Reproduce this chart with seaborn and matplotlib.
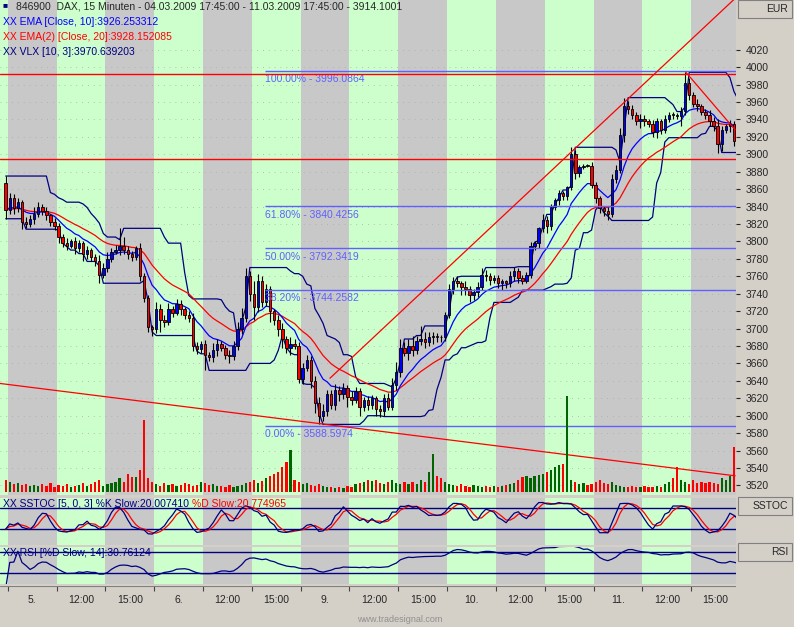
import numpy as np
import pandas as pd
import matplotlib
matplotlib.use("Agg")
import matplotlib.pyplot as plt
import seaborn as sns

# ---------------- data ----------------
first_open = 3867
closes = [3836, 3850, 3838, 3845, 3822, 3820, 3826, 3832, 3840, 3835,
          3830, 3822, 3818, 3805, 3798, 3795, 3800, 3792, 3798, 3785,
          3790, 3782, 3778, 3762, 3770, 3780, 3788, 3790, 3795, 3790,
          3785, 3782, 3792, 3760, 3735, 3702, 3700, 3722, 3710, 3708,
          3722, 3718, 3728, 3722, 3716, 3712, 3680, 3676, 3682, 3670,
          3667, 3675, 3682, 3678, 3670, 3668, 3680, 3700, 3712, 3760,
          3740, 3725, 3755, 3730, 3745, 3720, 3710, 3700, 3688, 3678,
          3682, 3680, 3642, 3655, 3664, 3640, 3615, 3600, 3605, 3625,
          3612, 3630, 3625, 3632, 3622, 3618, 3628, 3610, 3618, 3612,
          3620, 3608, 3605, 3620, 3610, 3635, 3650, 3678, 3672, 3680,
          3675, 3686, 3688, 3684, 3690, 3692, 3690, 3690, 3715, 3745,
          3755, 3752, 3748, 3745, 3738, 3742, 3748, 3762, 3760, 3756,
          3758, 3752, 3754, 3752, 3760, 3766, 3758, 3755, 3762, 3795,
          3798, 3815, 3825, 3818, 3840, 3848, 3855, 3852, 3862, 3900,
          3878, 3885, 3887, 3887, 3865, 3850, 3838, 3835, 3832, 3872,
          3882, 3922, 3955, 3952, 3945, 3938, 3940, 3938, 3935, 3925,
          3938, 3928, 3940, 3945, 3945, 3944, 3950, 3982, 3968, 3958,
          3955, 3948, 3945, 3938, 3932, 3912, 3928, 3932, 3935, 3915,
          3914]
wick_up = [8, 6, 4, 5, 3, 6, 4, 8, 5, 3, 4, 2, 5, 3, 4, 6, 3, 5, 4, 2,
           5, 3, 4, 6, 5, 8, 4, 6, 20, 10, 5, 4, 3, 6, 4, 3, 2, 8, 6, 5,
           7, 4, 6, 5, 3, 4, 6, 5, 4, 5, 3, 8, 6, 4, 3, 5, 6, 8, 12, 10,
           6, 15, 8, 5, 6, 4, 3, 5, 6, 4, 8, 6, 4, 5, 6, 4, 5, 6, 8, 4,
           5, 6, 4, 5, 3, 6, 5, 4, 3, 5, 4, 3, 4, 5, 6, 8, 12, 10, 6, 8,
           12, 6, 15, 8, 6, 4, 3, 3, 4, 6, 4, 5, 3, 6, 4, 3, 5, 8, 5, 4,
           3, 4, 3, 2, 6, 5, 4, 3, 3, 4, 3, 2, 6, 4, 3, 2, 4, 3, 2, 8,
           5, 3, 2, 2, 4, 3, 2, 3, 4, 5, 6, 8, 10, 6, 5, 4, 6, 5, 3, 4,
           4, 3, 5, 4, 3, 2, 4, 12, 6, 4, 5, 3, 4, 6, 5, 8, 4, 3, 4, 3, 2]
wick_dn = [10, 5, 6, 4, 8, 5, 3, 6, 4, 5, 6, 4, 5, 7, 4, 5, 3, 6, 4, 8,
           5, 4, 6, 10, 4, 5, 4, 3, 6, 4, 5, 4, 3, 5, 4, 6, 8, 5, 14, 6,
           4, 5, 3, 6, 5, 4, 6, 5, 4, 18, 4, 5, 6, 4, 5, 8, 4, 5, 6, 4,
           8, 15, 6, 5, 4, 12, 6, 8, 10, 6, 8, 4, 5, 6, 4, 8, 12, 10, 6, 5,
           4, 6, 8, 6, 12, 6, 4, 10, 5, 6, 4, 8, 6, 5, 4, 3, 5, 6, 4, 8,
           6, 4, 5, 6, 4, 8, 5, 6, 4, 3, 5, 4, 10, 6, 8, 5, 6, 4, 5, 6,
           4, 5, 8, 6, 4, 5, 6, 4, 3, 4, 5, 6, 4, 8, 5, 4, 6, 5, 4, 3,
           6, 4, 2, 2, 4, 6, 5, 6, 8, 4, 5, 3, 8, 6, 5, 4, 8, 6, 4, 5,
           6, 5, 4, 3, 5, 4, 12, 5, 6, 4, 5, 3, 4, 6, 5, 10, 8, 4, 6, 5, 3]
volume = [12, 10, 8, 9, 7, 8, 6, 7, 6, 8, 6, 9, 5, 7, 6, 8, 5, 6, 7, 9,
          6, 8, 10, 12, 6, 8, 9, 10, 14, 10, 18, 15, 15, 22, 72, 14, 10, 8, 6, 9,
          7, 8, 6, 7, 9, 8, 6, 7, 10, 9, 7, 8, 6, 6, 5, 7, 5, 6, 7, 9,
          10, 12, 9, 11, 14, 16, 18, 20, 25, 30, 42, 12, 10, 8, 9, 7, 6, 8, 6, 5,
          5, 4, 5, 4, 6, 5, 8, 9, 10, 12, 11, 12, 9, 8, 10, 12, 9, 8, 10, 8,
          10, 8, 12, 10, 20, 38, 16, 14, 10, 8, 7, 6, 8, 6, 5, 7, 6, 5, 6, 5,
          6, 5, 6, 7, 8, 9, 12, 15, 16, 14, 16, 17, 18, 20, 22, 25, 27, 28, 97, 12,
          10, 8, 9, 7, 8, 10, 12, 9, 8, 10, 7, 6, 5, 5, 6, 5, 5, 6, 5, 5,
          6, 5, 8, 10, 14, 25, 12, 10, 8, 12, 9, 10, 9, 10, 9, 8, 14, 12, 16, 45, 14]

fib_levels = [3996.0864, 3840.4256, 3792.3419, 3744.2582, 3588.5974]
fib_pcts = ["100.00%", "61.80%", "50.00%", "38.20%", "0.00%"]
red_hlines = [3992, 3894]
tick_labels = ["5.", "12:00", "15:00", "6.", "12:00", "15:00", "9.", "12:00", "15:00",
               "10.", "12:00", "15:00", "11.", "12:00", "15:00"]
# trend lines (bar index, price)
trend_lines = [((-1.4, 3637), (179.3, 3531)),
               ((79.7, 3643), (180.0, 4082)),
               ((167.2, 3994), (179.3, 3928))]

# ---------------- derived ----------------
n = len(closes)
x = np.arange(n)
c = np.array(closes, float)
o = np.concatenate([[first_open], c[:-1]])
h = np.maximum(o, c) + np.array(wick_up)
l = np.minimum(o, c) - np.array(wick_dn)
df = pd.DataFrame({"x": x, "open": o, "close": c, "high": h, "low": l, "vol": volume})
df["ema10"] = df["close"].ewm(span=10, adjust=False).mean()
df["ema20"] = df["close"].ewm(span=20, adjust=False).mean()
df["ema20b"] = df["ema20"].ewm(span=2, adjust=False).mean()
df["vup"] = df["high"].rolling(10, min_periods=1).max().shift(1).bfill()
df["vdn"] = df["low"].rolling(10, min_periods=1).min().shift(1).bfill()
lo5 = df["low"].rolling(5, min_periods=1).min()
hi5 = df["high"].rolling(5, min_periods=1).max()
fk = 100 * (df["close"] - lo5) / (hi5 - lo5).replace(0, 1)
df["k"] = fk.rolling(3, min_periods=1).mean()
df["d"] = df["k"].rolling(3, min_periods=1).mean()
delta = df["close"].diff().fillna(0)
up = delta.clip(lower=0).ewm(alpha=1 / 14, adjust=False).mean()
dn = (-delta.clip(upper=0)).ewm(alpha=1 / 14, adjust=False).mean()
rsi = 100 - 100 / (1 + up / dn.replace(0, 1e-9))
df["rsi"] = rsi.rolling(3, min_periods=1).mean()

# ---------------- style ----------------
sns.set_style("white")
plt.rcParams["font.family"] = ["Liberation Sans", "DejaVu Sans"]
BG = "#d4d0c8"
GRAY = "#c8c8c8"
GREEN = "#ccffcc"
NAVY = "#000080"
FIB = "#6060ff"

fig = plt.figure(figsize=(7.94, 6.27), dpi=100, facecolor=BG)
W = 736 / 794
ax = fig.add_axes([0, 1 - 495 / 627, W, 495 / 627])
ax_s = fig.add_axes([0, 1 - 545 / 627, W, 47 / 627], sharex=ax)
ax_r = fig.add_axes([0, 1 - 584 / 627, W, 37 / 627], sharex=ax)
ax_t = fig.add_axes([0, 1 - 612 / 627, W, 26 / 627], sharex=ax)

xmin, xmax = -1.4, 179.5
ylo, yhi = 3509, 4077

def bands(a):
    a.axvspan(xmin, 0.5, color=GREEN, lw=0, zorder=0)
    for k in range(15):
        a.axvspan(0.5 + 12 * k, 12.5 + 12 * k, color=GRAY if k % 2 == 0 else GREEN, lw=0, zorder=0)
    a.set_xlim(xmin, xmax)

for a in (ax, ax_s, ax_r):
    bands(a)
    a.set_facecolor(GRAY)
    for sp in a.spines.values():
        sp.set_visible(False)
    a.tick_params(left=False, bottom=False, labelbottom=False, labelleft=False)

# volume on twin
axv = ax.twinx()
axv.set_ylim(-3, 495)
axv.set_axis_off()
vcol = np.where(df["close"] > df["open"], "#006400", "#ff0000")
axv.bar(df["x"], df["vol"], width=0.55, color=vcol, edgecolor="none", linewidth=0,
        zorder=2, antialiased=False)

# main
ax.set_ylim(ylo, yhi)
for yv in np.arange(3520, 4040, 20):
    ax.axhline(yv, color="#aaaaaa", lw=0.6, ls=(0, (1, 6)), zorder=1)
ax.yaxis.tick_right()
ax.set_yticks(np.arange(3520, 4040, 20))
ax.tick_params(axis="y", left=False, labelleft=False, right=True, labelright=True,
               length=3, labelsize=7.5, pad=4)

# indicators
sns.lineplot(data=df, x="x", y="vup", ax=ax, color=NAVY, lw=0.9, zorder=3)
sns.lineplot(data=df, x="x", y="vdn", ax=ax, color=NAVY, lw=0.9, zorder=3)
sns.lineplot(data=df, x="x", y="ema20b", ax=ax, color="#ff0000", lw=0.9, zorder=3)
sns.lineplot(data=df, x="x", y="ema10", ax=ax, color="#0000ff", lw=0.9, zorder=3)

# candles
ax.vlines(df["x"], df["low"], df["high"], color="black", lw=0.8, zorder=4)
ccol = np.where(df["close"] > df["open"], "#0000ff", "#ff0000")
body = (df["close"] - df["open"]).abs().clip(lower=0.8)
ax.bar(df["x"], body, bottom=np.minimum(df["open"], df["close"]), width=0.6,
       color=ccol, edgecolor="black", lw=0.6, zorder=5)
ax.set_xlabel(""); ax.set_ylabel("")

# fib
for lv, pct in zip(fib_levels, fib_pcts):
    ax.hlines(lv, 63.8, xmax, color=FIB, lw=1, zorder=6)
    ax.text(63.8, lv - 4, f"{pct} - {lv:.4f}", color=FIB, fontsize=7.5, va="top", ha="left", zorder=6)
for lv in red_hlines:
    ax.axhline(lv, color="#ff0000", lw=1, zorder=6)
for (x0, y0), (x1, y1) in trend_lines:
    ax.plot([x0, x1], [y0, y1], color="#ff0000", lw=0.9, zorder=6)

ax.text(0.004, 0.995, "\u25a0", transform=ax.transAxes, color=NAVY, fontsize=6, va="top")
ax.text(0.022, 0.997, "846900  DAX, 15 Minuten - 04.03.2009 17:45:00 - 11.03.2009 17:45:00 - 3914.1001",
        transform=ax.transAxes, fontsize=7.5, va="top")
ax.text(0.004, 0.966, "XX EMA [Close, 10]:3926.253312", transform=ax.transAxes, fontsize=7.5, va="top", color="#0000ff")
ax.text(0.004, 0.936, "XX EMA(2) [Close, 20]:3928.152085", transform=ax.transAxes, fontsize=7.5, va="top", color="#ff0000")
ax.text(0.004, 0.906, "XX VLX [10, 3]:3970.639203", transform=ax.transAxes, fontsize=7.5, va="top", color=NAVY)

# stochastic
ax_s.set_ylim(-24, 107)
for yv in (80, 20):
    ax_s.axhline(yv, color=NAVY, lw=1)
sns.lineplot(data=df, x="x", y="d", ax=ax_s, color="#ff0000", lw=0.9)
sns.lineplot(data=df, x="x", y="k", ax=ax_s, color=NAVY, lw=0.9)
ax_s.set_xlabel(""); ax_s.set_ylabel("")
t1 = ax_s.text(0.004, 0.98, "XX SSTOC [5, 0, 3] %K Slow:20.007410 ", transform=ax_s.transAxes,
               fontsize=7.5, va="top", color=NAVY)
fig.canvas.draw()
bb = t1.get_window_extent().transformed(ax_s.transAxes.inverted())
ax_s.text(bb.x1, 0.98, "%D Slow:20.774965", transform=ax_s.transAxes, fontsize=7.5, va="top", color="#ff0000")

# RSI
ax_r.set_ylim(8, 80)
for yv in (70, 30):
    ax_r.axhline(yv, color=NAVY, lw=1)
sns.lineplot(data=df, x="x", y="rsi", ax=ax_r, color=NAVY, lw=0.9)
ax_r.set_xlabel(""); ax_r.set_ylabel("")
ax_r.text(0.004, 0.98, "XX RSI [%D Slow, 14]:30.76124", transform=ax_r.transAxes,
          fontsize=7.5, va="top", color=NAVY)

# time axis
ax_t.set_facecolor(BG)
for sp in ax_t.spines.values():
    sp.set_visible(False)
ax_t.set_ylim(0, 1)
ax_t.set_yticks([])
ax_t.tick_params(axis="x", bottom=False, labelbottom=False)
for k in range(15):
    ax_t.vlines(0.5 + 12 * k, 0.8, 1.0, color="#444444", lw=0.8)
    ax_t.text(6.5 + 12 * k, 0.45, tick_labels[k], ha="center", va="center", fontsize=7.5)
ax_t.axhline(1.0, color="#808080", lw=0.8)

# right side boxes
for (y0, y1, txt) in [(0, 18, "EUR"), (497, 515, "SSTOC"), (543, 561, "RSI")]:
    fig.patches.append(plt.Rectangle((738 / 794, 1 - y1 / 627), 54 / 794, (y1 - y0) / 627,
                                     transform=fig.transFigure, facecolor=BG,
                                     edgecolor="#808080", lw=0.8))
    fig.text(788 / 794, 1 - (y0 + y1) / 2 / 627, txt, ha="right", va="center", fontsize=7.5)
fig.text(400 / 794, 1 - 620 / 627, "www.tradesignal.com", ha="center", va="center",
         fontsize=6.5, color="#909090")

fig.savefig("out.png", dpi=100, facecolor=BG)
